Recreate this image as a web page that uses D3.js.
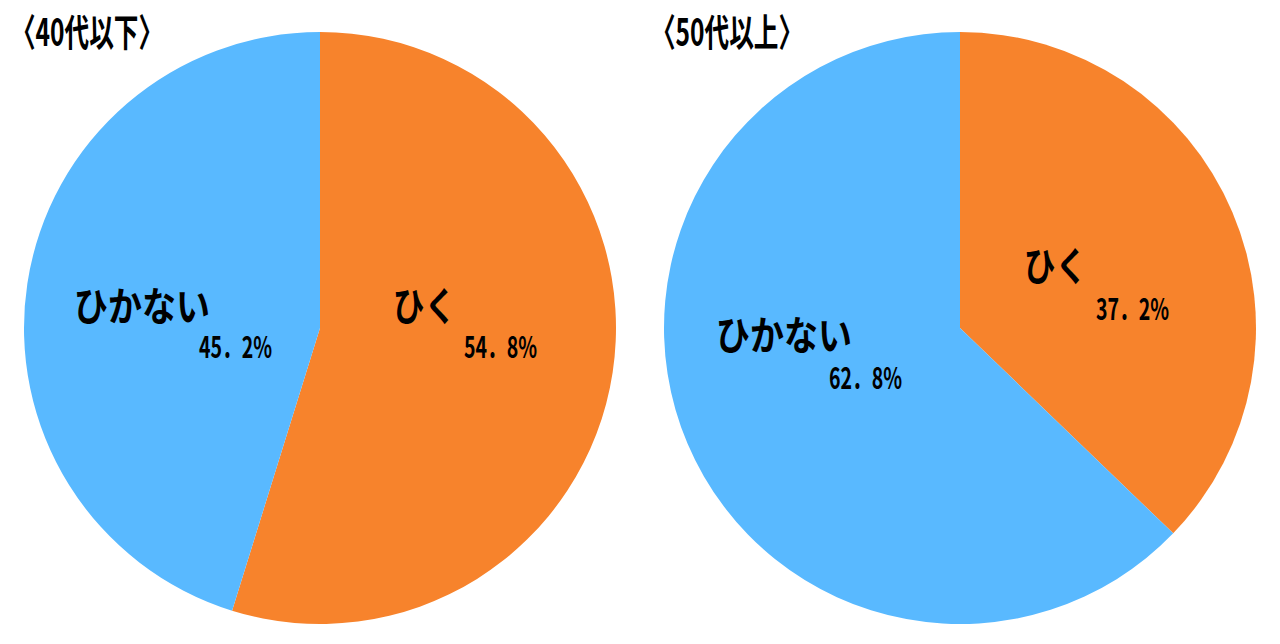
<!DOCTYPE html>
<html>
<head>
<meta charset="utf-8">
<script src="https://cdn.jsdelivr.net/npm/d3@7"></script>
<style>
  body { margin: 0; background: #fff; }
  text { font-family: "Noto Sans CJK JP", "Noto Sans", sans-serif; font-weight: bold; fill: #000; }
</style>
</head>
<body>
<svg></svg>
<script>
// data
var groups = ['〈40代以下〉', '〈50代以上〉'];
var categories = ['ひく', 'ひかない'];
var values40 = [54.8, 45.2];
var values50 = [37.2, 62.8];

var colors = ['#F7832C', '#59B9FF'];

var width = 1280,
  height = 644,
  radius = 296;

var pies = [
  { title: groups[0], values: values40, cx: 320, cy: 328, titleX: 11, titleW: 152,
    // label placement relative to pie centre: [name x, name y, pct x, pct y]
    labels: [[73, -7, 144, 30], [-246, -7, -121, 30]] },
  { title: groups[1], values: values50, cx: 960, cy: 328, titleX: 651, titleW: 152,
    labels: [[64, -47, 136, -8], [-244, 22, -131, 61]] }
];

var svg = d3.select('svg')
  .attr('width', width)
  .attr('height', height);

var color = d3.scaleOrdinal().domain(categories).range(colors);

var pie = d3.pie().sort(null).value(d => d.value);
var arc = d3.arc().innerRadius(0).outerRadius(radius);

pies.forEach(function(p) {
  var data = categories.map((c, i) => ({ name: c, value: p.values[i] }));
  var g = svg.append('g')
    .attr('transform', 'translate(' + [p.cx, p.cy] + ')');

  g.selectAll('path')
    .data(pie(data))
    .join('path')
    .attr('d', arc)
    .attr('fill', d => color(d.data.name));

  var lab = g.selectAll('.lab')
    .data(pie(data))
    .join('g')
    .attr('class', 'lab');

  lab.append('text')
    .attr('x', (d, i) => p.labels[i][0])
    .attr('y', (d, i) => p.labels[i][1])
    .attr('font-size', 40)
    .attr('textLength', d => d.data.name.length == 2 ? 63 : 136)
    .attr('lengthAdjust', 'spacingAndGlyphs')
    .text(d => d.data.name);

  lab.append('text')
    .attr('x', (d, i) => p.labels[i][2])
    .attr('y', (d, i) => p.labels[i][3])
    .attr('font-size', 30)
    .attr('textLength', 73)
    .attr('lengthAdjust', 'spacingAndGlyphs')
    .text(d => d.data.value.toFixed(1).replace('.', '．') + '%');

  svg.append('text')
    .attr('x', p.titleX)
    .attr('y', 46)
    .attr('font-size', 38)
    .attr('textLength', p.titleW)
    .attr('lengthAdjust', 'spacingAndGlyphs')
    .text(p.title);
});
</script>
</body>
</html>
